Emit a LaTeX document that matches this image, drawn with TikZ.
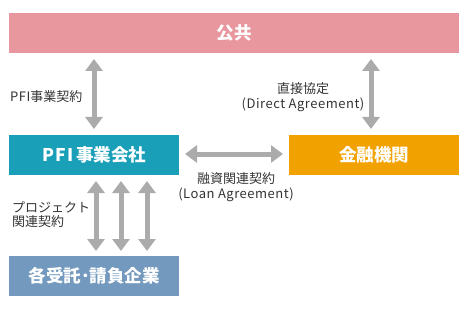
\documentclass[tikz,border=0pt]{standalone}
\usepackage{fontspec}
\setmainfont{Noto Sans CJK JP}
\usetikzlibrary{arrows.meta}
\definecolor{pubc}{HTML}{E9979F}
\definecolor{pfic}{HTML}{1A9FB8}
\definecolor{finc}{HTML}{F2A200}
\definecolor{conc}{HTML}{7399BE}
\definecolor{arrc}{HTML}{ABABAB}
\definecolor{txtc}{HTML}{333333}
\tikzset{
  boxst/.style={fill=#1, draw=none, text=white, font=\fontsize{17.5}{20}\selectfont\bfseries, inner sep=0pt, anchor=north west},
  dblarrow/.style={arrc, line width=5pt, {Triangle[width=17pt,length=12pt]}-{Triangle[width=17pt,length=12pt]}},
  lbl/.style={text=txtc, font=\fontsize{13}{14.5}\selectfont, inner sep=0pt}
}
\newcommand{\spc}[1]{{\addfontfeatures{LetterSpace=4}#1}}
\begin{document}
\begin{tikzpicture}[x=1pt,y=-1pt]
\useasboundingbox (0,0) rectangle (468,310);
\node[boxst=pubc, minimum width=450pt, minimum height=40pt] (pub) at (9,13) {公共};
\node[boxst=pfic, minimum width=170pt, minimum height=40pt] (pfi) at (9,135) {\addfontfeatures{LetterSpace=6}PFI\,\addfontfeatures{LetterSpace=0}事業会社};
\node[boxst=finc, minimum width=170pt, minimum height=40pt] (fin) at (289,135) {金融機関};
\node[boxst=conc, minimum width=170pt, minimum height=40pt] (con) at (9,256) {各受託･請負企業};
\coordinate (a1t) at (94,59); \coordinate (a1b) at (94,129);
\coordinate (a2t) at (371,59); \coordinate (a2b) at (371,129);
\coordinate (a3l) at (185,154); \coordinate (a3r) at (283,154);
\coordinate (b1t) at (96,181); \coordinate (b1b) at (96,251);
\coordinate (b2t) at (121,181); \coordinate (b2b) at (121,251);
\coordinate (b3t) at (147,181); \coordinate (b3b) at (147,251);
\draw[dblarrow] (a1t) -- (a1b);
\draw[dblarrow] (a2t) -- (a2b);
\draw[dblarrow] (a3l) -- (a3r);
\draw[dblarrow] (b1t) -- (b1b);
\draw[dblarrow] (b2t) -- (b2b);
\draw[dblarrow] (b3t) -- (b3b);
\node[lbl, anchor=west] (l1) at (10,97) {\spc{PFI}事業契約};
\node[lbl, align=center] (l2) at (303,97) {直接協定\\\spc{(Direct Agreement)}};
\node[lbl, align=center] (l3) at (236,187) {融資関連契約\\\spc{(Loan Agreement)}};
\node[lbl, align=left, anchor=west] (l4) at (12,214.5) {プロジェクト\\関連契約};
\end{tikzpicture}
\end{document}
